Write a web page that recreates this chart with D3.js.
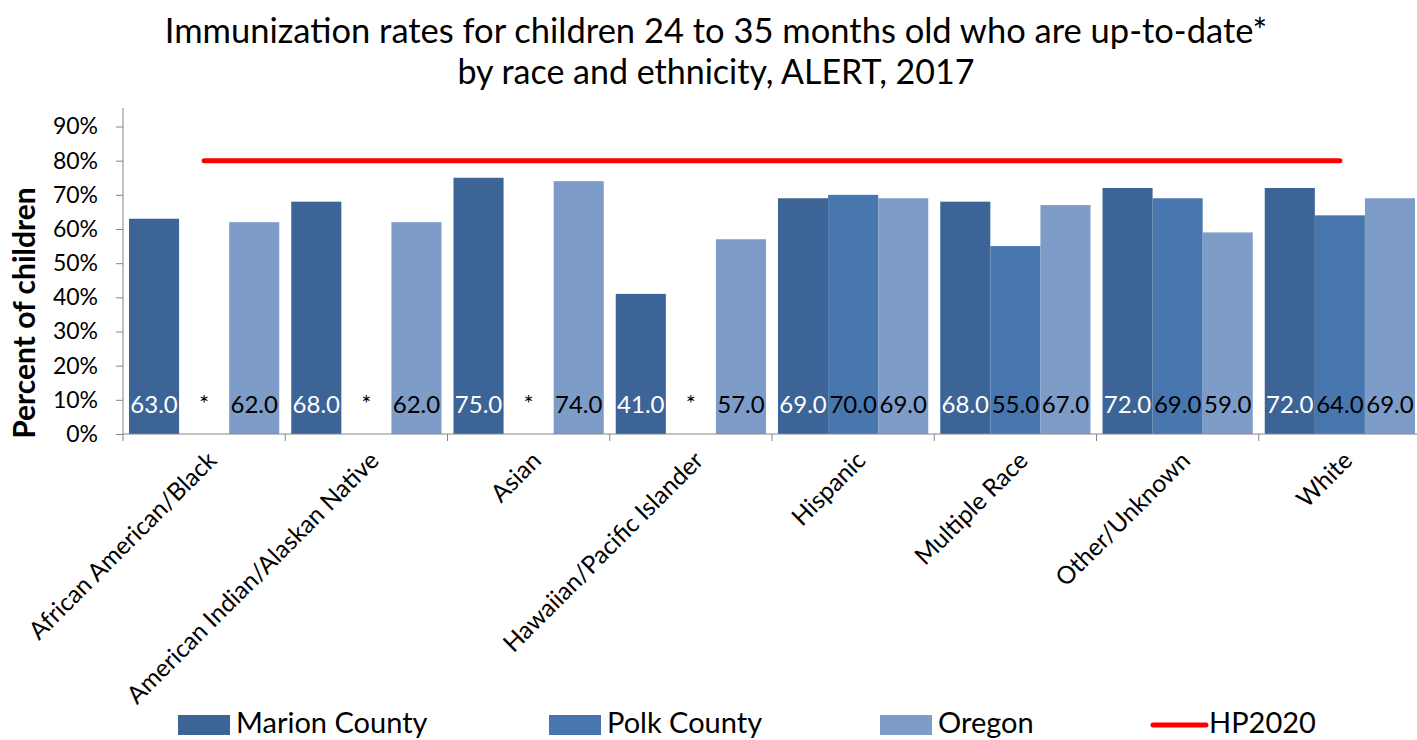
<!DOCTYPE html>
<html><head><meta charset="utf-8">
<script src="https://cdn.jsdelivr.net/npm/d3@7"></script>
<style>body{margin:0;background:#fff}svg{display:block}text{font-family:Lato,"Open Sans",sans-serif}</style>
</head><body>
<svg id="c" width="1417" height="740"></svg>
<script>
const categories = ["African American/Black","American Indian/Alaskan Native","Asian","Hawaiian/Pacific Islander","Hispanic","Multiple Race","Other/Unknown","White"];
const seriesNames = ["Marion County","Polk County","Oregon"];
const marion = [63,68,75,41,69,68,72,72];
const polk = [null,null,null,null,70,55,69,64];
const oregon = [62,62,74,57,69,67,59,69];
const hp2020 = 80;
const yTicks = [0,10,20,30,40,50,60,70,80,90];
const colors = ["#3C6496","#4877B0","#7E9CC8"];
const labelColors = ["#ffffff","#000000","#000000"];

const svg = d3.select("#c");
const L = 123, R = 1421, T = 126.5, B = 434;
const x = d3.scaleBand().domain(categories).range([L,R]).paddingInner(0.074).paddingOuter(0.037);
const x1 = d3.scaleBand().domain(seriesNames).range([0,x.bandwidth()]);
const y = d3.scaleLinear().domain([0,90]).range([B,T]);
const data = [marion,polk,oregon];

// title
svg.append("text").attr("x",716).attr("y",43).attr("text-anchor","middle").attr("font-size",34.5).text("Immunization rates for children 24 to 35 months old who are up-to-date*");
svg.append("text").attr("x",716).attr("y",84).attr("text-anchor","middle").attr("font-size",34).text("by race and ethnicity, ALERT, 2017");

// y axis
const ya = svg.append("g").attr("transform",`translate(${L},0)`).call(d3.axisLeft(y).tickValues(yTicks).tickFormat(d=>d+"%").tickSize(7).tickSizeOuter(0));
ya.select(".domain").attr("stroke","#868686").attr("d",`M0,${B}V108`);
ya.selectAll(".tick line").attr("stroke","#868686");
ya.selectAll(".tick text").attr("font-size",23).attr("fill","#000").attr("x",-25);
svg.append("text").attr("transform",`translate(35,313) rotate(-90)`).attr("text-anchor","middle").attr("font-size",30).attr("font-weight","bold").text("Percent of children");

// bars
categories.forEach((c,i)=>{
  data.forEach((s,j)=>{
    const v = s[i];
    const bx = x(c)+x1(seriesNames[j]);
    if (v!=null) {
      svg.append("rect").attr("x",bx).attr("y",y(v)).attr("width",x1.bandwidth()).attr("height",y(0)-y(v)).attr("fill",colors[j]);
      svg.append("text").attr("x",bx+x1.bandwidth()/2).attr("y",y(0)-27).attr("text-anchor","middle").attr("dominant-baseline","middle").attr("font-size",24).attr("fill",labelColors[j]).text(v.toFixed(1));
    } else {
      svg.append("text").attr("x",bx+x1.bandwidth()/2).attr("y",y(0)-28).attr("text-anchor","middle").attr("dominant-baseline","middle").attr("font-size",24).attr("fill","#000").text("*");
    }
  });
});

// x axis
const stepW = x.step();
svg.append("line").attr("x1",L).attr("x2",R).attr("y1",B).attr("y2",B).attr("stroke","#868686");
d3.range(categories.length+1).forEach(k=>{
  const tx = L + k*stepW;
  svg.append("line").attr("x1",tx).attr("x2",tx).attr("y1",B).attr("y2",B+7).attr("stroke","#868686");
});
categories.forEach(c=>{
  const cx = x(c)+x.bandwidth()/2+14;
  svg.append("text").attr("transform",`translate(${cx},462) rotate(-45)`).attr("text-anchor","end").attr("font-size",24.5).text(c);
});

// HP2020 line
svg.append("line").attr("x1",x(categories[0])+x.bandwidth()/2).attr("x2",x(categories[categories.length-1])+x.bandwidth()/2).attr("y1",y(hp2020)).attr("y2",y(hp2020)).attr("stroke","#FF0000").attr("stroke-width",5).attr("stroke-linecap","round");

// legend
const leg = [{n:"Marion County",x:178,c:colors[0]},{n:"Polk County",x:549,c:colors[1]},{n:"Oregon",x:880,c:colors[2]},{n:"HP2020",x:1151,c:"#FF0000",line:true}];
leg.forEach(d=>{
  if (d.line) svg.append("line").attr("x1",d.x+2).attr("x2",d.x+55).attr("y1",725).attr("y2",725).attr("stroke",d.c).attr("stroke-width",5).attr("stroke-linecap","round");
  else svg.append("rect").attr("x",d.x).attr("y",715).attr("width",52).attr("height",20).attr("fill",d.c);
  svg.append("text").attr("x",d.x+58).attr("y",733).attr("font-size",29).text(d.n);
});
</script>
</body></html>
